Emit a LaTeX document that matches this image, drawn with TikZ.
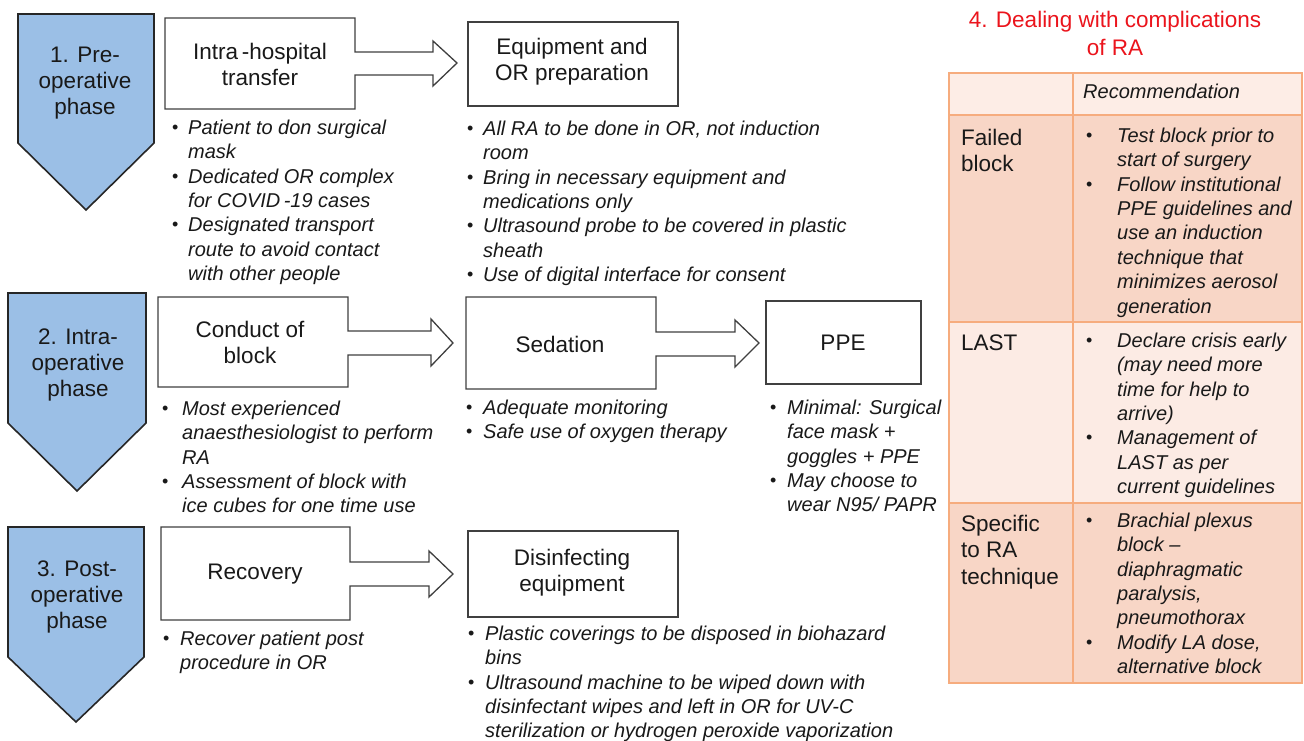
\documentclass[tikz,border=0pt]{standalone}
\usepackage{fontspec}
\setmainfont{Liberation Sans}
\definecolor{chevblue}{RGB}{155,191,230}
\definecolor{tborder}{RGB}{246,172,126}
\definecolor{thead}{RGB}{253,237,230}
\definecolor{tdark}{RGB}{248,214,198}
\definecolor{tlight}{RGB}{252,235,228}
\definecolor{titlered}{RGB}{235,20,28}
\newlength\bind
\newcommand\bi{\strut\makebox[\bind][l]{\upshape\raisebox{1pt}{\fontsize{18}{18}\selectfont •}}}
\newcommand\ci{\hspace*{\bind}}
\tikzset{
  lbl/.style={font=\fontsize{22.5}{26}\selectfont, align=center, inner sep=0pt, text=black!90},
  lbll/.style={font=\fontsize{22.5}{26.5}\selectfont, align=left, inner sep=0pt, anchor=north west, text=black!90},
  blist/.style={font=\fontsize{20}{24.4}\selectfont\itshape, align=left, inner sep=0pt, anchor=north west, text=black!90},
  bw/.code={\global\bind=#1\relax},
  outl/.style={draw=black!75, line width=1.3pt, fill=white, line join=miter},
  chev/.style={draw=black!85, line width=1.6pt, fill=chevblue},
  tline/.style={draw=tborder, line width=2pt},
}
\begin{document}
\begin{tikzpicture}[x=1pt,y=-1pt]
\useasboundingbox (0,0) rectangle (1304,741);
\fill[white] (0,0) rectangle (1304,741);

% ---------- phase chevrons ----------
\draw[chev] (18,14) -- (154,14) -- (154,143) -- (86,210) -- (18,143) -- cycle;
\node[lbl] (ph1) at (85,83) {1. Pre-\\operative\\phase};
\draw[chev] (8,293) -- (146,293) -- (146,423) -- (77,491) -- (8,423) -- cycle;
\node[lbl] (ph2) at (78,365) {2. Intra-\\operative\\phase};
\draw[chev] (8,527) -- (144,527) -- (144,657) -- (76,722) -- (8,657) -- cycle;
\node[lbl] (ph3) at (77,597) {3. Post-\\operative\\phase};

% ---------- row 1 ----------
\draw[outl] (165,18) -- (355,18) -- (355,52) -- (433,52) -- (433,41) -- (457,63)
  -- (433,86) -- (433,75) -- (355,75) -- (355,109) -- (165,109) -- cycle;
\node[lbl] (ih) at (260,64) {Intra\,-hospital\\transfer};
\draw[outl] (468,22) rectangle (678,106);
\node[lbl] (eq) at (572,62) {Equipment and\\OR preparation};

\node[blist, bw=16pt] (l1) at (172,117) {%
\bi Patient to don surgical\\ \ci mask\\
\bi Dedicated OR complex\\ \ci for COVID\,-19 cases\\
\bi Designated transport\\ \ci route to avoid contact\\ \ci with other people};

\node[blist, bw=16pt] (l2) at (467,118) {%
\bi All RA to be done in OR, not induction\\ \ci room\\
\bi Bring in necessary equipment and\\ \ci medications only\\
\bi Ultrasound probe to be covered in plastic\\ \ci sheath\\
\bi Use of digital interface for consent};

% ---------- row 2 ----------
\draw[outl] (158,297) -- (348,297) -- (348,331) -- (431,331) -- (431,319) -- (453,343)
  -- (431,366) -- (431,355) -- (348,355) -- (348,387) -- (158,387) -- cycle;
\node[lbl] (cb) at (250,342) {Conduct of\\block};
\draw[outl] (466,297) -- (656,297) -- (656,332) -- (735,332) -- (735,320) -- (759,343)
  -- (735,367) -- (735,356) -- (656,356) -- (656,389) -- (466,389) -- cycle;
\node[lbl] (sed) at (560,344) {Sedation};
\draw[outl] (766,301) rectangle (921,384);
\node[lbl] (ppe) at (843,343) {PPE};

\node[blist, bw=20pt] (l3) at (162,398) {%
\bi Most experienced\\ \ci anaesthesiologist to perform\\ \ci RA\\
\bi Assessment of block with\\ \ci ice cubes for one time use};

\node[blist, bw=17pt] (l4) at (466,397) {%
\bi Adequate monitoring\\
\bi Safe use of oxygen therapy};

\node[blist, bw=17pt] (l5) at (770,397) {%
\bi Minimal: Surgical\\ \ci face mask +\\ \ci goggles + PPE\\
\bi May choose to\\ \ci wear N95/ PAPR};

% ---------- row 3 ----------
\draw[outl] (161,527) -- (350,527) -- (350,562) -- (429,562) -- (429,551) -- (453,574)
  -- (429,597) -- (429,586) -- (350,586) -- (350,620) -- (161,620) -- cycle;
\node[lbl] (rec) at (255,574) {Recovery};
\draw[outl] (468,531) rectangle (678,617);
\node[lbl] (dis) at (572,573) {Disinfecting\\equipment};

\node[blist, bw=17pt] (l6) at (163,628) {%
\bi Recover patient post\\ \ci procedure in OR};

\node[blist, bw=17pt] (l7) at (468,623) {%
\bi Plastic coverings to be disposed in biohazard\\ \ci bins\\
\bi Ultrasound machine to be wiped down with\\ \ci disinfectant wipes and left in OR for UV-C\\ \ci sterilization or hydrogen peroxide vaporization};

% ---------- right panel ----------
\node[lbl, text=titlered, font=\fontsize{22.5}{28}\selectfont] (title) at (1115,33)
  {4. Dealing with complications\\of RA};

\fill[thead] (949,73) rectangle (1302,115);
\fill[tdark] (949,115) rectangle (1302,322);
\fill[tlight] (949,322) rectangle (1302,503);
\fill[tdark] (949,503) rectangle (1302,683);
\draw[tline] (949,73) rectangle (1302,683);
\draw[tline] (949,115) -- (1302,115);
\draw[tline] (949,322) -- (1302,322);
\draw[tline] (949,503) -- (1302,503);
\draw[tline] (1073,73) -- (1073,683);

\node[font=\fontsize{20}{24.4}\selectfont\itshape, inner sep=0pt, anchor=base west, text=black!90]
  (rh) at (1083,99) {Recommendation};

\node[lbll] (c1) at (961,126.5) {\strut Failed\\block};
\node[lbll] (c2) at (961,331.5) {\strut LAST};
\node[lbll] (c3) at (961,512.5) {\strut Specific\\to RA\\technique};

\node[blist, bw=31pt] (t1) at (1086,125) {%
\bi Test block prior to\\ \ci start of surgery\\
\bi Follow institutional\\ \ci PPE guidelines and\\ \ci use an induction\\ \ci technique that\\ \ci minimizes aerosol\\ \ci generation};

\node[blist, bw=31pt] (t2) at (1086,330) {%
\bi Declare crisis early\\ \ci (may need more\\ \ci time for help to\\ \ci arrive)\\
\bi Management of\\ \ci LAST as per\\ \ci current guidelines};

\node[blist, bw=31pt] (t3) at (1086,510) {%
\bi Brachial plexus\\ \ci block --\\ \ci diaphragmatic\\ \ci paralysis,\\ \ci pneumothorax\\
\bi Modify LA dose,\\ \ci alternative block};
\end{tikzpicture}
\end{document}
